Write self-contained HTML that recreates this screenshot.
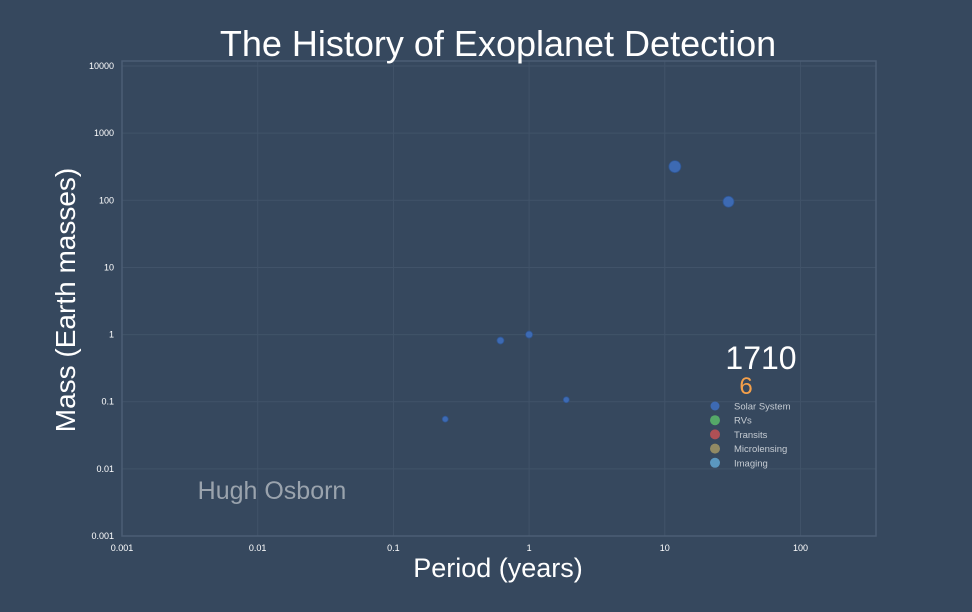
<!DOCTYPE html>
<html><head><meta charset="utf-8"><style>
html,body{margin:0;padding:0;background:#36485e;}
svg{display:block;font-family:"Liberation Sans",sans-serif;}
</style></head><body>
<svg id="chart" width="972" height="612">
<rect x="0" y="0" width="972" height="612" fill="#36485e"/>
<g id="grid"></g>
<rect x="122" y="61" width="754" height="475" fill="none" stroke="#4c5e75" stroke-width="1.5"/>
<g id="ticks"></g>
<g id="points"></g>
<text x="498" y="56" fill="#ffffff" font-size="36" text-anchor="middle">The History of Exoplanet Detection</text>
<text x="498" y="577" fill="#ffffff" font-size="27" text-anchor="middle">Period (years)</text>
<text transform="translate(75,300) rotate(-90)" fill="#ffffff" font-size="28" text-anchor="middle">Mass (Earth masses)</text>
<text x="272" y="499" fill="#9aa3ad" font-size="25" text-anchor="middle">Hugh Osborn</text>
<text x="761" y="369" fill="#ffffff" font-size="32" text-anchor="middle">1710</text>
<text x="746" y="394" fill="#f5a04a" font-size="24" text-anchor="middle">6</text>
<g id="legend"></g>
</svg>
<script>
const periods=[0.241,0.615,1.0,1.88,11.86,29.46];
const masses=[0.055,0.815,1.0,0.107,317.8,95.2];
const radii=[3,3.5,3.5,3,6,5.5];
const xTicks=[0.001,0.01,0.1,1,10,100];
const xTickLabels=["0.001","0.01","0.1","1","10","100"];
const yTicks=[0.001,0.01,0.1,1,10,100,1000,10000];
const yTickLabels=["0.001","0.01","0.1","1","10","100","1000","10000"];
const legendLabels=["Solar System","RVs","Transits","Microlensing","Imaging"];
const legendColors=["#3d6ab3","#55a868","#b05055","#918a64","#5b98c0"];
const NS="http://www.w3.org/2000/svg";
const L=122,R=876,T=61,B=536;
const xMin=-3,xMax=Math.log10(360),yMin=-3,yMax=4.075;
function sx(v){return L+(Math.log10(v)-xMin)/(xMax-xMin)*(R-L);}
function sy(v){return B-(Math.log10(v)-yMin)/(yMax-yMin)*(B-T);}
function mk(t,a,p){const e=document.createElementNS(NS,t);for(const k in a)e.setAttribute(k,a[k]);p.appendChild(e);return e;}
const grid=document.getElementById('grid'),ticks=document.getElementById('ticks');
xTicks.forEach((v,i)=>{const x=sx(v);
 const g=mk('line',{x1:x,x2:x,y1:T,y2:B,stroke:'#415369','stroke-width':1},grid);
 
 
 const t=mk('text',{x:x,y:B+15,fill:'#ffffff','font-size':9,'text-anchor':'middle'},ticks);
 t.textContent=xTickLabels[i];
 
 });
yTicks.forEach((v,i)=>{const y=sy(v);
 const g=mk('line',{x1:L,x2:R,y1:y,y2:y,stroke:'#415369','stroke-width':1},grid);
 
 
 const t=mk('text',{x:L-8,y:y+3,fill:'#ffffff','font-size':9,'text-anchor':'end'},ticks);
 t.textContent=yTickLabels[i];
 
 });
const pts=document.getElementById('points');
periods.forEach((p,i)=>{const c=mk('circle',{cx:sx(p),cy:sy(masses[i]),r:radii[i],fill:'#3d6ab3',stroke:'#2f5590','stroke-width':0.8},pts);
 
 });
const lg=document.getElementById('legend');
legendLabels.forEach((s,i)=>{const y=406+i*14.2;
 const c=mk('circle',{cx:715,cy:y,r:4.5+(i?0.5:0),fill:legendColors[i]},lg);
 
 
 const t=mk('text',{x:734,y:y+3.5,fill:'#c6ccd3','font-size':9.5},lg);
 t.textContent=s;
 
 });
</script>
</body></html>
